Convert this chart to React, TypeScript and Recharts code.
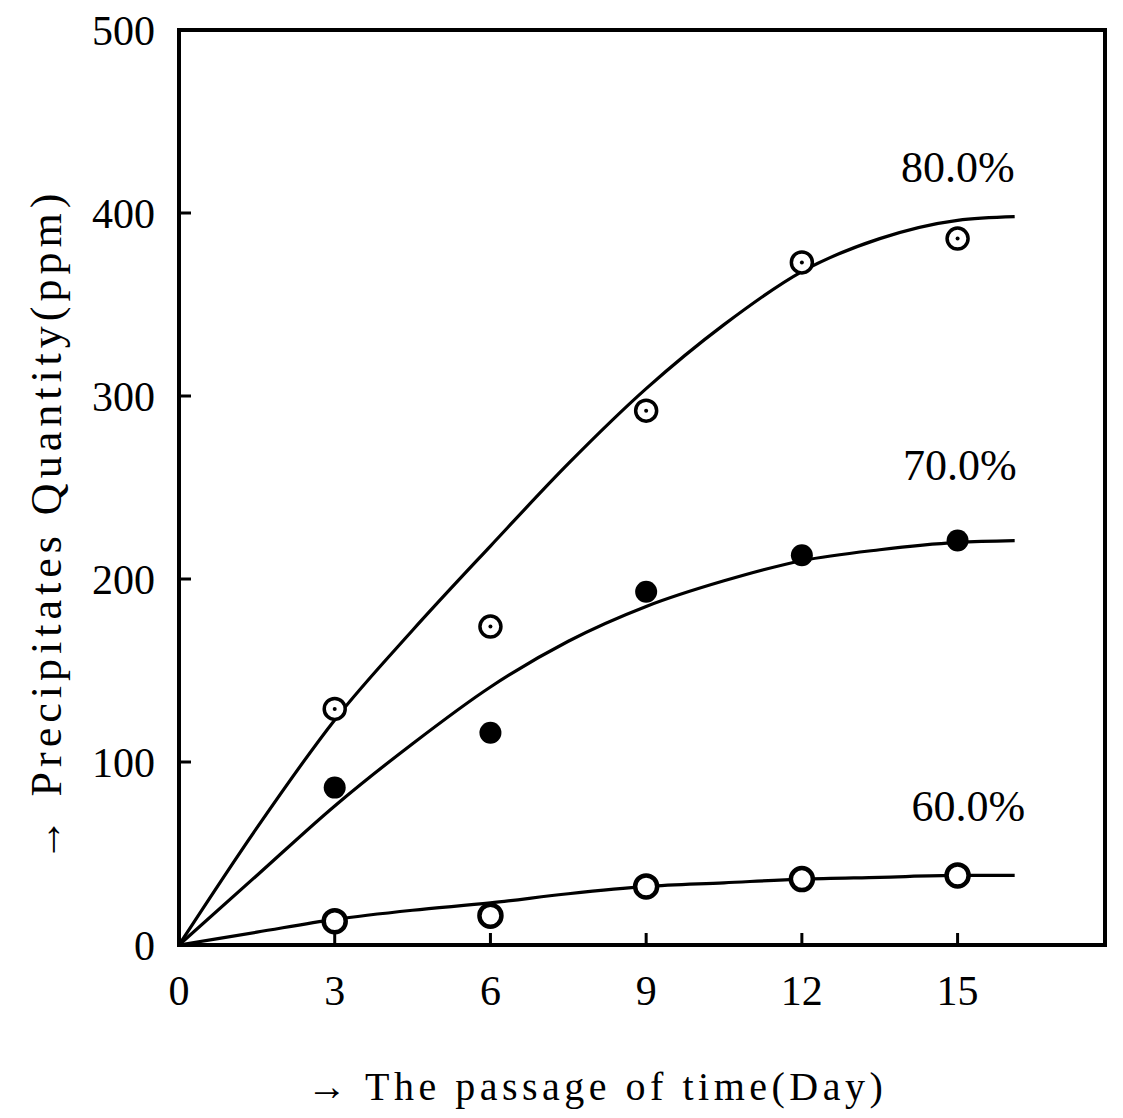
import React from 'react';
import { ComposedChart, Line, Scatter, XAxis, YAxis, ReferenceDot, ReferenceArea } from 'recharts';

const dayTicks = [0, 3, 6, 9, 12, 15];
const quantityTicks = [0, 100, 200, 300, 400, 500];
const dayDomain = [0, 17.84];
const quantityDomain = [0, 500];

// measured points
const sampleDays = [3, 6, 9, 12, 15];
const measured80 = [129, 174, 292, 373, 386];
const measured70 = [86, 116, 193, 213, 221];
const measured60 = [13, 16, 32, 36, 38];

// hand-drawn fitted curves
const curveDays = [0, 1.5, 3, 4.5, 6, 7.5, 9, 10.5, 12, 13.5, 15, 16.1];
const curve80 = [0, 64, 123, 172, 218, 263, 304, 339, 368, 386, 396, 398];
const curve70 = [0, 38, 76, 110, 141, 166, 185, 199, 210, 216, 220, 221];
const curve60 = [0, 7, 14, 19, 23, 28, 32, 34, 36, 37, 38, 38];

const seriesNames = ['80.0%', '70.0%', '60.0%'];
const labelAnchorsX = [16.1, 16.14, 16.3];
const labelAnchorsY = [417, 254, 68];

const FONT = '"Liberation Serif", "DejaVu Serif", serif';

const toRows = (xs: number[], ys: number[]) => xs.map((day, i) => ({ day, value: ys[i] }));

const ringDot = (props: any) => (
  <g>
    <circle cx={props.cx} cy={props.cy} r={10.5} fill="#fff" stroke="#000" strokeWidth={3.5} />
    <circle cx={props.cx} cy={props.cy} r={2} fill="#000" />
  </g>
);
const filledDot = (props: any) => <circle cx={props.cx} cy={props.cy} r={11} fill="#000" />;
const openDot = (props: any) => (
  <circle cx={props.cx} cy={props.cy} r={11} fill="#fff" stroke="#000" strokeWidth={4.5} />
);

const seriesLabel = (text: string) => (props: any) => {
  const vb = props.viewBox || {};
  return (
    <text x={vb.x} y={vb.y} textAnchor="end" fontFamily={FONT} fontSize={44} fill="#000">
      {text}
    </text>
  );
};

export default function App() {
  const lines = [curve80, curve70, curve60];
  const points = [measured80, measured70, measured60];
  const shapes = [ringDot, filledDot, openDot];

  return (
    <div style={{ width: 1123, height: 1118, background: '#fff' }}>
      <style>{`body{margin:0;background:#fff}`}</style>
      <ComposedChart
        width={1123}
        height={1118}
        margin={{ top: 30, right: 18, left: 0, bottom: 0 }}
        style={{ fontFamily: FONT }}
      >
        <XAxis
          dataKey="day"
          type="number"
          domain={dayDomain}
          ticks={dayTicks}
          height={173}
          tickSize={-12}
          tickMargin={42}
          axisLine={{ stroke: '#000', strokeWidth: 4 }}
          tickLine={{ stroke: '#000', strokeWidth: 3 }}
          tick={{ fill: '#000', fontSize: 42, fontFamily: FONT }}
          label={{
            content: () => (
              <text x={597} y={1100} textAnchor="middle" fontFamily={FONT} fontSize={40} letterSpacing={4.5} fill="#000">
                → The passage of time(Day)
              </text>
            ),
          }}
        />
        <YAxis
          dataKey="value"
          type="number"
          domain={quantityDomain}
          ticks={quantityTicks}
          width={179}
          tickSize={-12}
          tickMargin={36}
          axisLine={{ stroke: '#000', strokeWidth: 4 }}
          tickLine={{ stroke: '#000', strokeWidth: 3 }}
          tick={{ fill: '#000', fontSize: 42, fontFamily: FONT }}
          label={{
            content: () => (
              <text x={46} y={525} textAnchor="middle" dominantBaseline="central" transform="rotate(-90 46 525)"
                fontFamily={FONT} fontSize={44} letterSpacing={5} fill="#000">
                → Precipitates Quantity(ppm)
              </text>
            ),
          }}
        />

        <ReferenceArea
          x1={dayDomain[0]}
          x2={dayDomain[1]}
          y1={quantityDomain[0]}
          y2={quantityDomain[1]}
          fill="none"
          fillOpacity={0}
          stroke="#000"
          strokeWidth={4}
          strokeOpacity={1}
        />

        {lines.map((ys, i) => (
          <Line
            key={`curve-${i}`}
            data={toRows(curveDays, ys)}
            dataKey="value"
            type="monotone"
            stroke="#000"
            strokeWidth={3.2}
            dot={false}
            activeDot={false}
            isAnimationActive={false}
          />
        ))}
        {points.map((ys, i) => (
          <Scatter
            key={`pts-${i}`}
            data={toRows(sampleDays, ys)}
            shape={shapes[i]}
            isAnimationActive={false}
          />
        ))}
        {seriesNames.map((name, i) => (
          <ReferenceDot
            key={`lab-${i}`}
            x={labelAnchorsX[i]}
            y={labelAnchorsY[i]}
            r={0}
            fill="none"
            stroke="none"
            label={{ content: seriesLabel(name) }}
          />
        ))}
      </ComposedChart>
    </div>
  );
}
